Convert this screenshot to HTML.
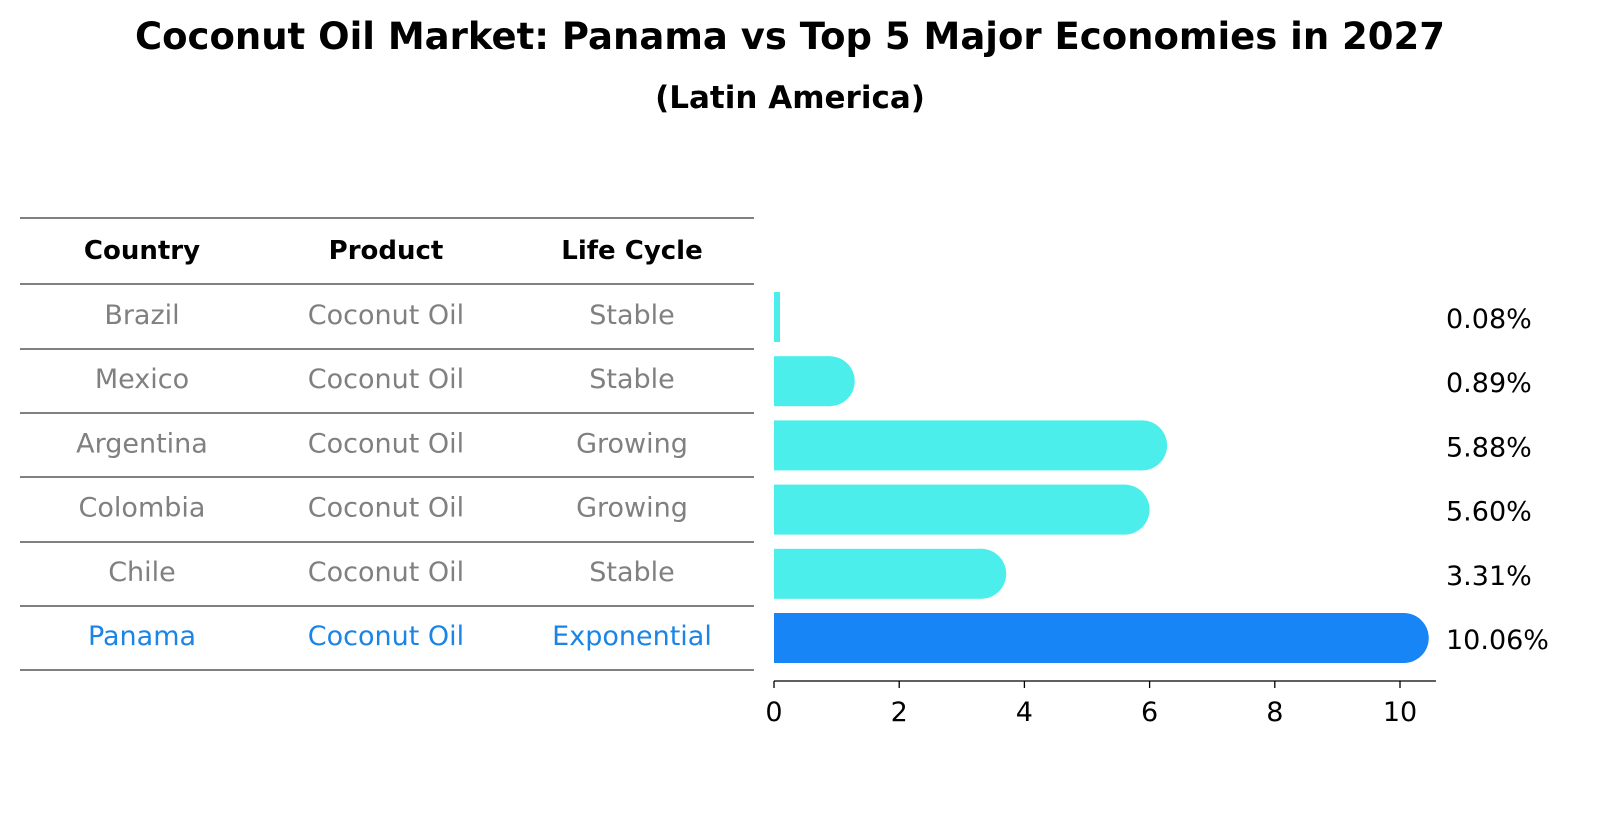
<!DOCTYPE html>
<html><head><meta charset="utf-8"><style>
body{margin:0;background:#fff;font-family:"Liberation Sans","DejaVu Sans",sans-serif;}
svg text{font-family:"DejaVu Sans","Liberation Sans",sans-serif;}
</style></head><body>
<svg id="chart" width="1604" height="823" viewBox="0 0 1604 823" xmlns="http://www.w3.org/2000/svg">
<text x="790" y="49" text-anchor="middle" font-size="37" font-weight="bold">Coconut Oil Market: Panama vs Top 5 Major Economies in 2027</text>
<text x="790" y="108" text-anchor="middle" font-size="31" font-weight="bold">(Latin America)</text>
<g id="table"></g>
<g id="bars"></g>
<g id="axis"></g>
</svg>
<script>
const countries=["Brazil","Mexico","Argentina","Colombia","Chile","Panama"];
const products=["Coconut Oil","Coconut Oil","Coconut Oil","Coconut Oil","Coconut Oil","Coconut Oil"];
const lifeCycles=["Stable","Stable","Growing","Growing","Stable","Exponential"];
const growth=[0.08,0.89,5.88,5.60,3.31,10.06];
const xTicks=[0,2,4,6,8,10];
const NS="http://www.w3.org/2000/svg";
const x0=774,pxPer=62.6;
function xs(v){return x0+v*pxPer;}
function rowY(i){return 317+i*64.2;}
function mk(tag,attrs,parent){const e=document.createElementNS(NS,tag);for(const k in attrs)e.setAttribute(k,attrs[k]);parent.appendChild(e);return e;}
const table=document.getElementById('table');
const lineYs=[218,284];
for(let i=0;i<countries.length;i++)lineYs.push(Math.round(rowY(i)+32));
lineYs.forEach((y,i)=>{const l=mk('line',{x1:20,x2:754,y1:y,y2:y,stroke:'#000','stroke-width':1},table);

});
const colX=[142,386,632];
["Country","Product","Life Cycle"].forEach((h,j)=>{const t=mk('text',{x:colX[j],y:259,'text-anchor':'middle','font-size':26,'font-weight':'bold'},table);t.textContent=h;

});
countries.forEach((c,i)=>{const col=c==="Panama"?'#1a85e6':'#808080';
[c,products[i],lifeCycles[i]].forEach((v,j)=>{const t=mk('text',{x:colX[j],y:rowY(i)+7,'text-anchor':'middle','font-size':27,fill:col},table);t.textContent=v;

});});
const bars=document.getElementById('bars');
growth.forEach((v,i)=>{const y=rowY(i),h=50,col=countries[i]==="Panama"?'#1785f5':'#4beeea';
const w=xs(v)-x0;const g=mk('g',{},bars);


if(v<0.5){mk('rect',{x:x0,y:y-h/2,width:Math.max(w,6),height:h,fill:col},g);}
else{mk('rect',{x:x0,y:y-h/2,width:w,height:h,fill:col},g);mk('circle',{cx:xs(v),cy:y,r:h/2,fill:col},g);}
const t=mk('text',{x:1446,y:y+11,'font-size':27},bars);t.textContent=v.toFixed(2)+'%';

});
const axis=document.getElementById('axis');
mk('line',{x1:x0,x2:1436,y1:681,y2:681,stroke:'#000','stroke-width':1.3},axis);
xTicks.forEach(v=>{mk('line',{x1:xs(v),x2:xs(v),y1:681,y2:688,stroke:'#000','stroke-width':1.3},axis);
const t=mk('text',{x:xs(v),y:721,'text-anchor':'middle','font-size':27},axis);t.textContent=v;

});
</script>
</body></html>
